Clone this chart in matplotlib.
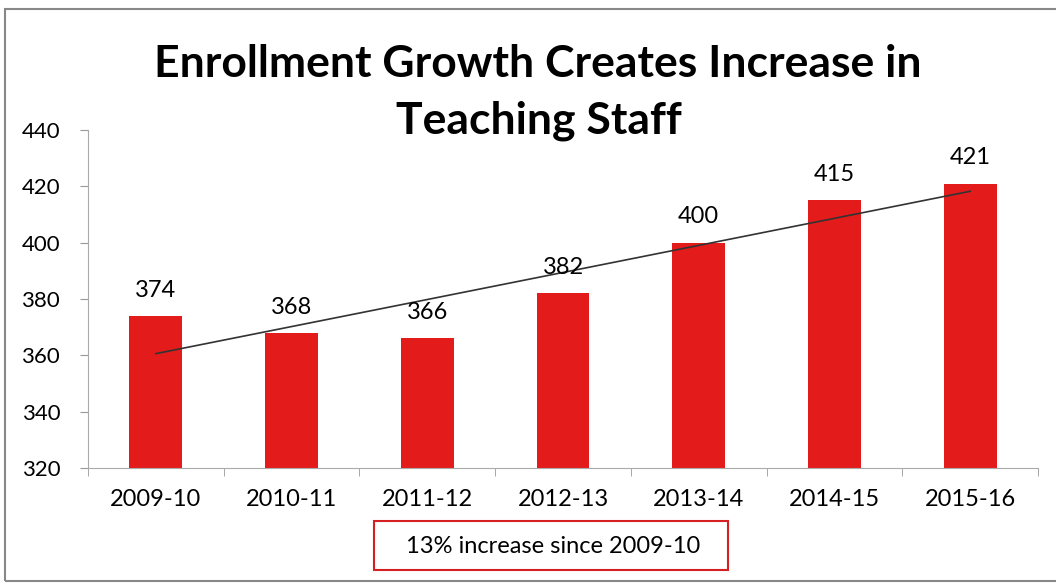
import numpy as np
import matplotlib.pyplot as plt
from matplotlib.patches import Rectangle

years = ["2009-10", "2010-11", "2011-12", "2012-13", "2013-14", "2014-15", "2015-16"]
staff = [374, 368, 366, 382, 400, 415, 421]
yticks = [320, 340, 360, 380, 400, 420, 440]

plt.rcParams["font.family"] = ["Lato", "DejaVu Sans"]

fig = plt.figure(figsize=(10.56, 5.84), dpi=100)
ax = fig.add_axes([0.0833, 0.1986, 0.8997, 0.5788])

x = np.arange(len(years))
ax.bar(x, staff, width=0.39, color="#e31b1b", zorder=2)

# linear trendline through the bar values
k, b = np.polyfit(x, staff, 1)
ax.plot(x, k * x + b, color="#333333", lw=1.2, zorder=3)

for xi, v in zip(x, staff):
    ax.annotate(str(v), (xi, v), xytext=(0, 11), textcoords="offset points",
                ha="center", va="bottom", fontsize=17)

ax.set_xlim(-0.5, len(years) - 0.5)
ax.set_ylim(320, 440)
ax.set_yticks(yticks)
ax.tick_params(axis="y", labelsize=16, length=6, color="#999999", pad=14)
ax.set_xticks(x)
ax.set_xticklabels(years, fontsize=17)
ax.tick_params(axis="x", length=0, pad=15)
# tick marks sit between categories on the x axis
ax.set_xticks(np.arange(len(years) + 1) - 0.5, minor=True)
ax.tick_params(axis="x", which="minor", length=6, color="#999999")

for side in ["top", "right"]:
    ax.spines[side].set_visible(False)
for side in ["left", "bottom"]:
    ax.spines[side].set_color("#aaaaaa")

fig.text(0.509, 0.868, "Enrollment Growth Creates Increase in",
         ha="center", va="baseline", fontsize=32, fontweight="bold")
fig.text(0.510, 0.772, "Teaching Staff",
         ha="center", va="baseline", fontsize=32, fontweight="bold")

# note box under the axis labels
fig.text(0.5236, 0.064, "13% increase since 2009-10", ha="center", va="center",
         fontsize=17)
fig.patches.append(Rectangle((0.354, 0.024), 0.335, 0.084, transform=fig.transFigure,
                             fill=False, edgecolor="#d42020", lw=1.5))

# outer frame
fig.patches.append(Rectangle((0.005, 0.005), 1.2, 0.98, transform=fig.transFigure,
                             fill=False, edgecolor="#888888", lw=1.5))

fig.savefig("out.png", dpi=100)
